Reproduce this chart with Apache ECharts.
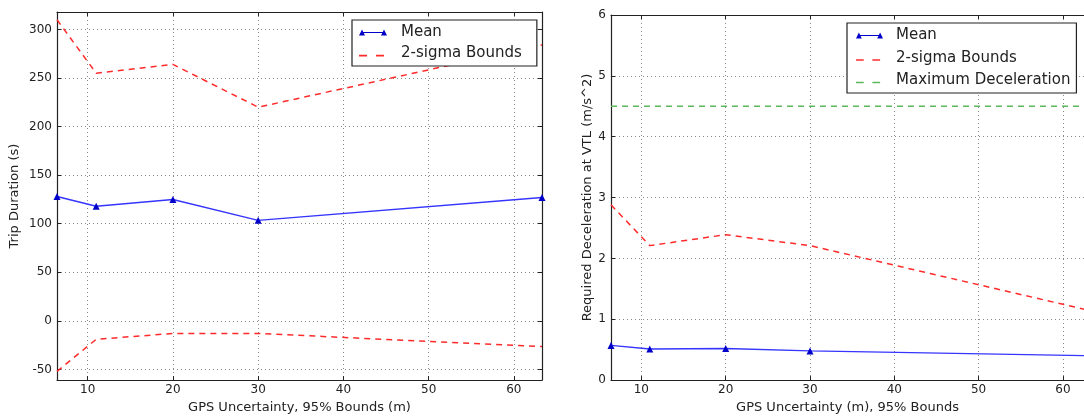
<!DOCTYPE html>
<html>
<head>
<meta charset="utf-8">
<script src="https://cdn.jsdelivr.net/npm/echarts@6/dist/echarts.min.js"></script>
<style>
html,body{margin:0;padding:0;background:#fff;}
#c{width:1084px;height:419px;}
</style>
</head>
<body>
<div id="c"></div>
<script>
// ---- data ----
var gpsX = [6.4, 11, 20, 30, 63.3];
var tripMean = [128, 118, 125, 103.5, 127];
var tripUpper = [310, 255, 264, 220, 284];
var tripLower = [-52, -19, -13, -13, -26.5];
var decelMean = [0.57, 0.51, 0.52, 0.48, 0.40];
var decelUpper = [2.88, 2.21, 2.39, 2.21, 1.14];
var maxDecel = [4.5, 4.5];
var maxDecelX = [6.4, 63.3];
var xTicks = [10, 20, 30, 40, 50, 60];
var tripTicks = [-50, 0, 50, 100, 150, 200, 250, 300];
var decelTicks = [0, 1, 2, 3, 4, 5, 6];

function pairs(xs, ys){ return xs.map(function(x,i){return [x, ys[i]];}); }

var FONT = 'DejaVu Sans';
var TXT = '#222';
var FRAME = '#222';
var gridLine = {show:true, lineStyle:{color:'#8a8a8a', type:[1,3], width:1}};

function xAxisDef(gi, name, max, pos){
  var main = pos === 'bottom';
  return {
    type:'value', gridIndex:gi, min:6.4, max:max, position:pos,
    name:main ? name : '', nameLocation:'middle', nameGap:18,
    nameTextStyle:{fontFamily:FONT, fontSize:13, color:TXT},
    axisLine:{show:true, onZero:false, lineStyle:{color:FRAME, width:1.2}},
    axisTick:{show:true, inside:true, length:4, customValues:xTicks, lineStyle:{color:FRAME}},
    axisLabel:{show:main, customValues:xTicks, fontFamily:FONT, fontSize:12, color:TXT, margin:4},
    splitLine:main ? gridLine : {show:false}
  };
}
function yAxisDef(gi, name, min, max, ticks, gap, pos, showLine){
  var main = pos === 'left';
  return {
    type:'value', gridIndex:gi, min:min, max:max, position:pos,
    name:main ? name : '', nameLocation:'middle', nameGap:gap,
    nameTextStyle:{fontFamily:FONT, fontSize:13, color:TXT},
    axisLine:{show:showLine, onZero:false, lineStyle:{color:FRAME, width:1.2}},
    axisTick:{show:showLine, inside:true, length:4, customValues:ticks, lineStyle:{color:FRAME}},
    axisLabel:{show:main, customValues:ticks, fontFamily:FONT, fontSize:12, color:TXT, margin:5},
    splitLine:main ? gridLine : {show:false}
  };
}

var RED = '#ff2b2b', BLUE = '#3535ff', MARK = '#0000c8', GREEN = '#5cb85c';
var meanIcon = 'path://M0,10 L3,4 L6,10 Z M3,6.6 L25,6.6 L25,7.6 L3,7.6 Z M22,10 L25,4 L28,10 Z';
var dashIcon = 'path://M0,6.3 L8,6.3 L8,7.9 L0,7.9 Z M17,6.3 L25,6.3 L25,7.9 L17,7.9 Z M0,0 L0.01,0 L0.01,0.01 Z M27.99,9.99 L28,9.99 L28,10 Z';

function meanSeries(xi, data){
  return {name:'Mean', type:'line', xAxisIndex:xi, yAxisIndex:xi, data:data,
    symbol:'triangle', symbolSize:7, showSymbol:true,
    itemStyle:{color:MARK}, lineStyle:{color:BLUE, width:1.4}, z:3, animation:false};
}
function dashSeries(xi, name, data, color){
  return {name:name, type:'line', xAxisIndex:xi, yAxisIndex:xi, data:data,
    symbol:'none', itemStyle:{color:color},
    lineStyle:{color:color, width:1.5, type:[6,5]}, z:2, animation:false};
}

var option = {
  animation:false,
  backgroundColor:'#fff',
  grid:[
    {left:57, right:542, top:12, bottom:32},
    {left:611, right:0, top:15, bottom:33}
  ],
  xAxis:[
    xAxisDef(0, 'GPS Uncertainty, 95% Bounds (m)', 63.3, 'bottom'),
    xAxisDef(1, 'GPS Uncertainty (m), 95% Bounds', 62.5, 'bottom'),
    xAxisDef(0, '', 63.3, 'top'),
    xAxisDef(1, '', 62.5, 'top')
  ],
  yAxis:[
    yAxisDef(0, 'Trip Duration (s)', -61, 318, tripTicks, 36, 'left', true),
    yAxisDef(1, 'Required Deceleration at VTL (m/s^2)', 0, 6, decelTicks, 14, 'left', true),
    yAxisDef(0, '', -61, 318, tripTicks, 0, 'right', true)
  ],
  legend:[
    {left:352, top:20, orient:'vertical',
     data:[{name:'Mean', icon:meanIcon}, {name:'2-sigma Bounds', icon:dashIcon}],
     borderColor:FRAME, borderWidth:1.2, backgroundColor:'#fff', padding:[4,15,4,7],
     itemGap:4, itemWidth:28, itemHeight:10, selectedMode:false,
     textStyle:{fontFamily:FONT, fontSize:15, color:TXT, lineHeight:17, padding:[0,0,0,9]}},
    {left:847, top:23, orient:'vertical',
     data:[{name:'Mean', icon:meanIcon}, {name:'2-sigma Bounds', icon:dashIcon}, {name:'Maximum Deceleration', icon:dashIcon}],
     borderColor:FRAME, borderWidth:1.2, backgroundColor:'#fff', padding:[4,6,4,9],
     itemGap:5.5, itemWidth:27, itemHeight:10, selectedMode:false,
     textStyle:{fontFamily:FONT, fontSize:15, color:TXT, lineHeight:17, padding:[0,0,0,8]}}
  ],
  series:[
    meanSeries(0, pairs(gpsX, tripMean)),
    dashSeries(0, '2-sigma Bounds', pairs(gpsX, tripUpper), RED),
    dashSeries(0, '2-sigma Bounds', pairs(gpsX, tripLower), RED),
    meanSeries(1, pairs(gpsX, decelMean)),
    dashSeries(1, '2-sigma Bounds', pairs(gpsX, decelUpper), RED),
    dashSeries(1, 'Maximum Deceleration', pairs(maxDecelX, maxDecel), GREEN)
  ]
};
var chart = echarts.init(document.getElementById('c'), null, {renderer:'canvas'});
chart.setOption(option);
</script>
</body>
</html>
